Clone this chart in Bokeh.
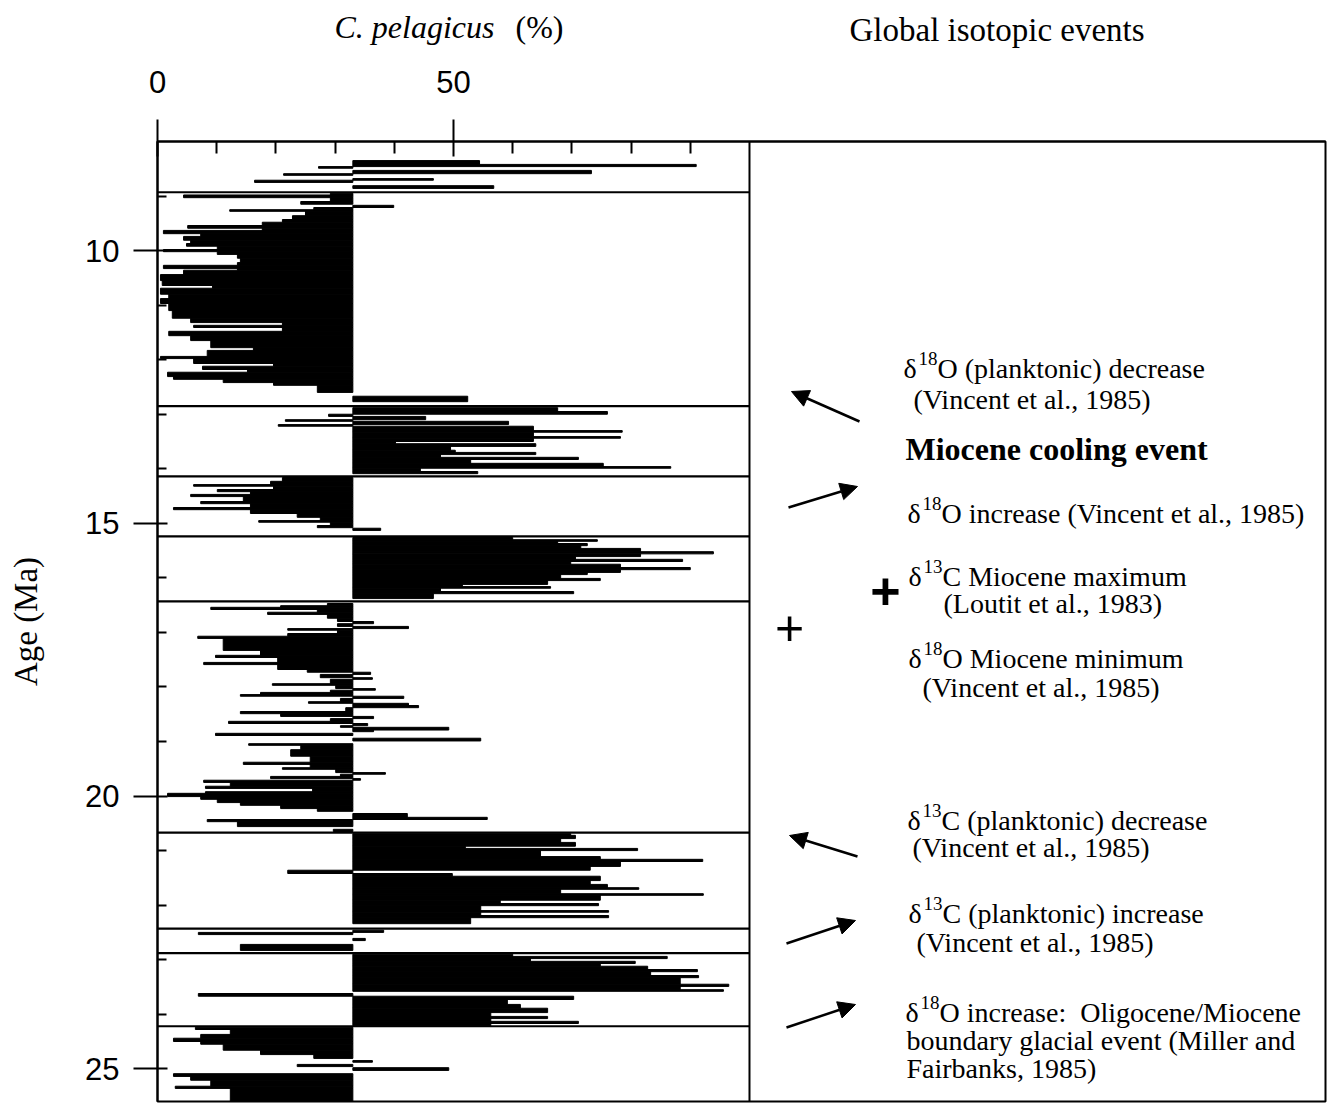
from bokeh.plotting import figure
from bokeh.layouts import column
from bokeh.models import Range1d, FixedTicker, Label, Arrow, NormalHead, Span, ColumnDataSource
from bokeh.core.properties import value
from bokeh.embed import file_html
from bokeh.resources import INLINE

# ---------------- data ----------------
# Each sample: age (Ma) at the top of its step, C. pelagicus percentage.
age_top = [
    # ~8.3-8.9 Ma
    8.35, 8.42, 8.46, 8.49, 8.53, 8.59, 8.62, 8.68, 8.71, 8.75, 8.81, 8.86,
    # 8.9-12.85 Ma
    8.95, 8.98, 9.03, 9.10, 9.15, 9.17, 9.21, 9.25, 9.28, 9.36, 9.43, 9.48, 9.54, 9.59,
    9.63, 9.69, 9.74, 9.81, 9.87, 9.92, 9.98, 10.02, 10.07, 10.14, 10.22, 10.27, 10.33,
    10.36, 10.44, 10.55, 10.64, 10.69, 10.80, 10.88, 10.97, 11.10, 11.24, 11.32, 11.37,
    11.41, 11.48, 11.56, 11.65, 11.78, 11.83, 11.94, 11.98, 12.07, 12.12, 12.18, 12.23,
    12.31, 12.36, 12.42, 12.47, 12.60, 12.67, 12.77,
    # 12.85-14.14 Ma
    12.88, 12.95, 13.00, 13.04, 13.10, 13.13, 13.19, 13.22, 13.30, 13.33, 13.41, 13.44,
    13.50, 13.54, 13.59, 13.66, 13.70, 13.74, 13.79, 13.83, 13.90, 13.96, 13.99, 14.05, 14.09,
    # 14.14-15.24 Ma
    14.16, 14.23, 14.29, 14.32, 14.38, 14.42, 14.47, 14.51, 14.60, 14.64, 14.71, 14.75,
    14.82, 14.89, 14.95, 14.98, 15.04, 15.08, 15.09, 15.13,
    # 15.24-16.43 Ma
    15.26, 15.30, 15.33, 15.37, 15.41, 15.46, 15.52, 15.56, 15.61, 15.66, 15.70, 15.75,
    15.81, 15.85, 15.90, 15.94, 16.01, 16.05, 16.12, 16.16, 16.19, 16.25, 16.29, 16.38,
    # 16.43-20.67 Ma
    16.47, 16.51, 16.54, 16.58, 16.63, 16.67, 16.74, 16.80, 16.84, 16.89, 16.93, 16.96,
    17.02, 17.07, 17.11, 17.33, 17.42, 17.46, 17.55, 17.59, 17.68, 17.73, 17.77, 17.83,
    17.86, 17.94, 17.97, 18.03, 18.06, 18.10, 18.14, 18.17, 18.21, 18.27, 18.30, 18.34,
    18.38, 18.45, 18.49, 18.54, 18.58, 18.63, 18.67, 18.71, 18.74, 18.79, 18.82, 18.85,
    18.89, 18.94, 18.99, 19.04, 19.07, 19.15, 19.27, 19.38, 19.42, 19.48, 19.51, 19.57,
    19.60, 19.64, 19.68, 19.71, 19.75, 19.82, 19.86, 19.92, 19.95, 20.01, 20.06, 20.12,
    20.17, 20.23, 20.28, 20.32, 20.39, 20.43, 20.47, 20.56, 20.61, 20.65,
    # 20.67-22.43 Ma
    20.69, 20.72, 20.78, 20.85, 20.92, 20.96, 21.00, 21.11, 21.16, 21.20, 21.29, 21.36,
    21.42, 21.47, 21.55, 21.62, 21.68, 21.71, 21.79, 21.82, 21.91, 21.97, 22.01, 22.10,
    22.13, 22.19, 22.23, 22.34,
    # 22.43-22.88 Ma
    22.46, 22.50, 22.54, 22.61, 22.65, 22.72, 22.83,
    # 22.88-24.22 Ma
    22.90, 22.94, 22.98, 23.03, 23.07, 23.12, 23.18, 23.22, 23.29, 23.33, 23.45, 23.49,
    23.55, 23.58, 23.62, 23.67, 23.73, 23.82, 23.89, 23.97, 24.04, 24.08, 24.13, 24.17, 24.21,
    # 24.22-25.6 Ma
    24.24, 24.28, 24.37, 24.44, 24.50, 24.55, 24.66, 24.74, 24.81, 24.85, 24.88, 24.92,
    24.96, 24.98, 25.03, 25.09, 25.14, 25.21, 25.32, 25.36,
]
pelagicus_pct = [
    54.4, 91.0, 27.2, 33.0, 73.3, 21.3, 33.0, 46.6, 16.4, 33.0, 56.8, 33.0,
    29.2, 4.4, 29.2, 24.2, 33.0, 39.9, 26.4, 12.2, 25.0, 22.8, 21.1, 17.7, 5.1, 17.7,
    1.0, 7.3, 4.4, 5.6, 4.9, 10.1, 1.0, 10.1, 13.5, 14.0, 13.5, 1.0, 13.5,
    4.4, 0.5, 0.8, 9.3, 0.5, 1.9, 0.5, 1.9, 2.5, 5.6, 21.1, 6.1,
    21.1, 1.9, 5.6, 9.0, 16.2, 8.4, 0.5, 6.1, 19.6, 7.6, 15.2, 1.7,
    2.7, 11.1, 19.6, 27.0, 33.0, 52.4, 33.0,
    67.6, 76.0, 28.9, 45.3, 21.6, 59.3, 20.4, 63.5, 78.5, 63.5, 78.2, 63.5,
    40.2, 63.9, 49.5, 50.3, 63.9, 47.8, 71.1, 52.9, 75.3, 86.7, 44.4, 54.1, 33.0,
    21.1, 19.1, 6.1, 19.6, 10.1, 15.7, 5.6, 14.5, 7.3, 15.7, 2.7, 15.7,
    23.6, 27.5, 17.1, 29.2, 27.0, 33.0, 37.7, 33.0,
    60.0, 74.3, 67.6, 72.6, 71.5, 81.6, 93.9, 81.6, 70.6, 88.7, 69.8, 78.2,
    90.0, 78.2, 72.6, 68.1, 74.8, 65.9, 51.5, 66.4, 47.8, 70.3, 46.6, 33.0,
    28.7, 20.8, 9.0, 27.0, 18.6, 28.7, 30.4, 36.5, 30.4, 42.4, 22.0, 30.4,
    22.0, 6.8, 11.1, 17.4, 9.8, 20.3, 7.8, 20.3, 25.3, 36.0, 27.5, 36.3,
    29.2, 19.4, 30.1, 36.8, 29.2, 17.4, 14.0, 41.6, 30.9, 25.5, 42.4, 44.1,
    31.8, 14.0, 20.8, 36.5, 29.2, 12.0, 35.5, 30.9, 49.2, 36.5, 33.0, 9.8,
    33.0, 54.6, 33.0, 15.4, 24.2, 22.5, 25.8, 14.5, 25.8, 21.1, 30.1, 38.5,
    30.9, 19.1, 34.3, 7.8, 12.3, 8.1, 26.2, 8.1, 1.7, 7.3, 10.1, 14.0,
    20.8, 27.0, 33.0, 42.2, 55.7, 8.4, 13.5, 33.0, 29.7, 33.0,
    69.8, 70.6, 68.1, 70.6, 52.0, 81.1, 64.7, 74.8, 92.1, 78.2, 73.1, 22.0,
    49.8, 74.8, 73.1, 76.0, 81.3, 68.1, 92.2, 74.8, 57.9, 74.5, 54.6, 76.2,
    54.6, 76.2, 52.9, 33.0,
    38.2, 6.9, 33.0, 35.1, 33.0, 14.0, 33.0,
    60.0, 86.1, 63.0, 80.7, 74.8, 82.8, 91.2, 83.3, 91.4, 88.3, 96.5, 88.3,
    95.6, 33.0, 6.9, 70.3, 59.1, 61.3, 65.9, 56.3, 65.9, 56.3, 71.1, 56.3, 33.0,
    6.4, 12.3, 7.3, 2.7, 7.3, 11.1, 17.4, 26.4, 33.0, 36.3, 33.0, 23.6,
    33.0, 49.2, 33.0, 2.7, 5.6, 9.0, 3.0, 12.3,
]
AGE_END = 25.6           # base of the record (bottom of the plot)
MEAN_PCT = 33.0          # reference (mean) abundance from which bars are drawn
boundary_ages = [8.93, 12.85, 14.14, 15.24, 16.43, 20.67, 22.43, 22.88, 24.22]

x_ticks = [0, 50]
x_minor_ticks = [10, 20, 30, 40, 60, 70, 80, 90]
y_ticks = [10, 15, 20, 25]
y_minor_ticks = [9, 11, 12, 13, 14, 16, 17, 18, 19, 21, 22, 23, 24]

# ---------------- build bars ----------------
bottoms_all = age_top[1:] + [AGE_END]
tops, bottoms, lefts, rights = [], [], [], []
for a, b, v in zip(age_top, bottoms_all, pelagicus_pct):
    if abs(v - MEAN_PCT) < 1e-9:
        continue
    tops.append(a)
    bottoms.append(b)
    lefts.append(min(v, MEAN_PCT))
    rights.append(max(v, MEAN_PCT))
bars = ColumnDataSource(dict(top=tops, bottom=bottoms, left=lefts, right=rights))

# ---------------- geometry ----------------
W = 1328
HEAD_H = 60
MAIN_H = 1044
ML, MT, MR, MB = 157, 81, 3, 3
X_END = 197.3
Y_TOP = 8.0
xr = Range1d(0, X_END)

# layout helpers for annotations (page pixels -> data units)
PX0, PY0 = 157.0, 141.0
SX = (W - ML - MR) / X_END
SY = (MAIN_H - MT - MB) / (AGE_END - Y_TOP)
def fx(px):
    return (px - PX0) / SX
def fy(py):
    return Y_TOP + (py - PY0) / SY

# ---------------- header (column titles) ----------------
head = figure(width=W, height=HEAD_H, x_range=xr, y_range=Range1d(HEAD_H, 0),
              x_axis_location=None, y_axis_location=None, output_backend="svg",
              toolbar_location=None, min_border=0)
head.xgrid.visible = False
head.ygrid.visible = False
head.outline_line_color = None
head.background_fill_color = "white"
head.border_fill_color = "white"

def head_text(px, baseline, text, size, style="normal"):
    head.text(x=[fx(px)], y=[baseline - 0.35 * size], text=[text],
              text_font=value("Liberation Serif"), text_font_style=style,
              text_font_size=value(f"{size}px"), text_color="black",
              text_align="left", text_baseline="middle")

head_text(334, 38, "C. pelagicus", 32, style="italic")
head_text(515, 38, "(%)", 32)
head_text(849, 41, "Global isotopic events", 33)

# ---------------- main figure ----------------
p = figure(width=W, height=MAIN_H,
           x_range=xr, y_range=Range1d(AGE_END, Y_TOP),
           x_axis_location="above", output_backend="svg", toolbar_location=None,
           min_border_left=ML, min_border_top=MT, min_border_right=MR, min_border_bottom=MB)
p.xgrid.visible = False
p.ygrid.visible = False
p.outline_line_color = "black"
p.outline_line_width = 2
p.background_fill_color = "white"
p.border_fill_color = "white"

# top axis
xa = p.xaxis[0]
xa.ticker = FixedTicker(ticks=x_ticks, minor_ticks=x_minor_ticks)
xa.major_tick_out = 22
xa.major_tick_in = 15
xa.minor_tick_in = 12
xa.minor_tick_out = 0
xa.axis_line_width = 2
xa.major_tick_line_width = 2
xa.minor_tick_line_width = 2
xa.axis_line_color = "black"
xa.major_tick_line_color = "black"
xa.minor_tick_line_color = "black"
xa.major_label_text_font = "Liberation Sans"
xa.major_label_text_font_size = "31px"
xa.major_label_text_color = "black"
xa.major_label_standoff = 27

# left axis
ya = p.yaxis[0]
ya.ticker = FixedTicker(ticks=y_ticks, minor_ticks=y_minor_ticks)
ya.major_tick_out = 24
ya.major_tick_in = 10
ya.minor_tick_in = 9
ya.minor_tick_out = 0
ya.axis_line_width = 2
ya.major_tick_line_width = 2
ya.minor_tick_line_width = 2
ya.axis_line_color = "black"
ya.major_tick_line_color = "black"
ya.minor_tick_line_color = "black"
ya.major_label_text_font = "Liberation Sans"
ya.major_label_text_font_size = "31px"
ya.major_label_text_color = "black"
ya.major_label_standoff = 14
ya.axis_label = "Age (Ma)"
ya.axis_label_text_font = "Liberation Serif"
ya.axis_label_text_font_style = "normal"
ya.axis_label_text_font_size = "33px"
ya.axis_label_text_color = "black"
ya.axis_label_standoff = 38

# bars
p.quad(source=bars, left="left", right="right", top="top", bottom="bottom",
       fill_color="black", line_color="black", line_width=1)

# boundary lines across the abundance panel
p.segment(x0=[0] * len(boundary_ages), x1=[100] * len(boundary_ages),
          y0=boundary_ages, y1=boundary_ages, line_color="black", line_width=2.2)

# divider between panels
p.add_layout(Span(location=100, dimension="height", line_color="black", line_width=2))

# ---------------- event annotations ----------------
def lab(px, baseline, text, size, font="Liberation Serif", style="normal", align="left"):
    p.add_layout(Label(x=fx(px), y=fy(baseline - 0.35 * size), text=text, text_font=font,
                       text_font_style=style, text_font_size=f"{size}px", text_color="black",
                       text_align=align, text_baseline="middle"))

FS = 28
SUP = 19
def delta(px, py, iso, rest):
    lab(px, py, "δ", FS)
    lab(px + 15, py - 13, iso, SUP)
    lab(px + 34, py, rest, FS)

delta(903, 378, "18", "O (planktonic) decrease")
lab(913, 409, "(Vincent et al., 1985)", FS)
lab(905, 460, "Miocene cooling event", 32, style="bold")
delta(907, 523, "18", "O increase (Vincent et al., 1985)")
delta(908, 586, "13", "C Miocene maximum")
lab(943, 613, "(Loutit et al., 1983)", FS)
delta(908, 668, "18", "O Miocene minimum")
lab(922, 697, "(Vincent et al., 1985)", FS)
delta(907, 830, "13", "C (planktonic) decrease")
lab(912, 857, "(Vincent et al., 1985)", FS)
delta(908, 923, "13", "C (planktonic) increase")
lab(916, 952, "(Vincent et al., 1985)", FS)
delta(905, 1022, "18", "O increase:\u00a0\u00a0Oligocene/Miocene")
lab(906, 1050, "boundary glacial event (Miller and", FS)
lab(906, 1078, "Fairbanks, 1985)", FS)

# plus signs (centred)
def plus(px, py, size, style):
    p.add_layout(Label(x=fx(px), y=fy(py), text="+", text_font="Liberation Sans",
                       text_font_style=style, text_font_size=f"{size}px", text_color="black",
                       text_align="center", text_baseline="middle"))
plus(885, 590, 52, "bold")
plus(789, 627, 50, "normal")

# arrows
arrows = [((859, 421), (791, 391)),
          ((788, 507), (857, 486)),
          ((857, 856), (789, 835)),
          ((786, 943), (855, 920)),
          ((786, 1027), (855, 1004))]
for (x0, y0), (x1, y1) in arrows:
    p.add_layout(Arrow(end=NormalHead(size=17, fill_color="black", line_color="black", line_width=1),
                       x_start=fx(x0), y_start=fy(y0), x_end=fx(x1), y_end=fy(y1),
                       line_color="black", line_width=2.5))

layout = column(head, p, spacing=0)
open("out.html", "w").write(file_html(layout, INLINE))
